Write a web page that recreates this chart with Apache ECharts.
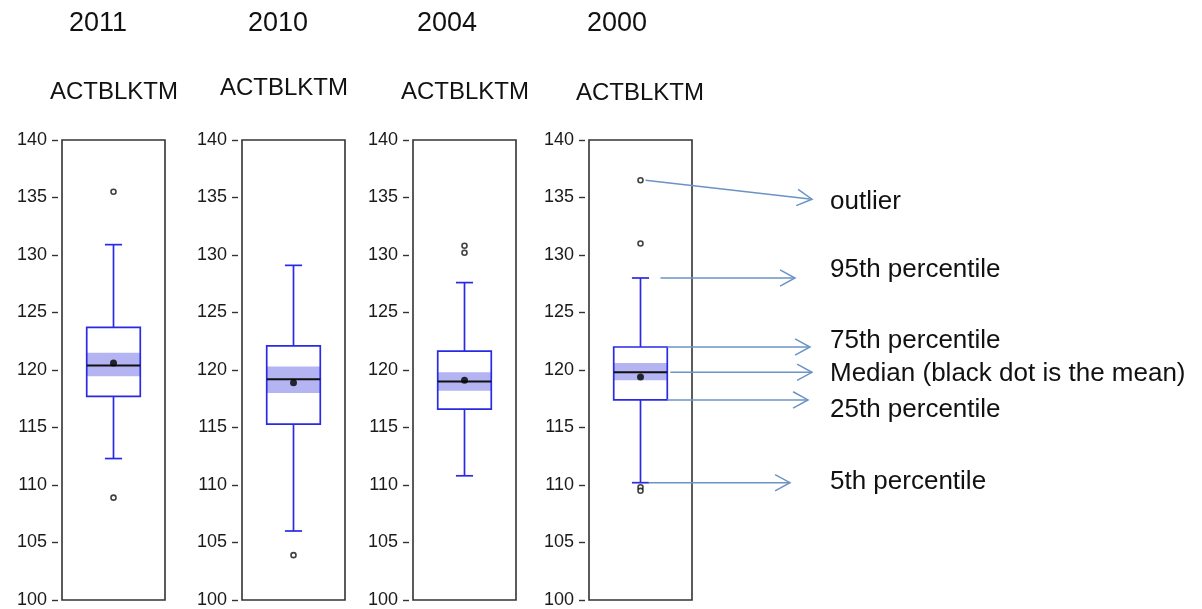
<!DOCTYPE html>
<html>
<head>
<meta charset="utf-8">
<script src="https://cdn.jsdelivr.net/npm/echarts@6/dist/echarts.min.js"></script>
<style>
  html, body { margin: 0; padding: 0; background: #fff; }
  #chart { width: 1202px; height: 609px; }
</style>
</head>
<body>
<div id="chart"></div>
<script>
"use strict"

// one panel per year
const years = ["2011", "2010", "2004", "2000"];
const varName = "ACTBLKTM";
const lowWhisker = [112.3, 106.0, 110.8, 110.2];
const q1 = [117.7, 115.3, 116.6, 117.4];
const median = [120.4, 119.2, 119.0, 119.8];
const q3 = [123.7, 122.1, 121.65, 122.0];
const highWhisker = [130.9, 129.1, 127.6, 128.0];
const bandLow = [119.45, 118.0, 118.2, 119.1];
const bandHigh = [121.5, 120.3, 119.8, 120.6];
const means = [120.6, 118.9, 119.1, 119.4];
const outliers = [[135.5, 108.9], [103.9], [130.2, 130.8], [136.5, 131.0, 109.8, 109.5]];
const yTicks = { min: 100, max: 140, step: 5 };

// annotation of the last panel: label + which statistic the arrow points from
const annoLabels = ["outlier", "95th percentile", "75th percentile", "Median (black dot is the mean)", "25th percentile", "5th percentile"];
const annoFrom = [outliers[3][0], highWhisker[3], q3[3], median[3], q1[3], lowWhisker[3]];

const gridLeft = [62, 242, 413, 589];
const gridW = 103, gridTop = 140, gridH = 460;
const blue = "#2a2ae6";
const arrowCol = "#6b93c6";
const font = "'Liberation Sans', Arial, sans-serif";

const myChart = echarts.init(document.getElementById("chart"), null, { renderer: "canvas" });

function renderBox(params, api)
{
    const x = api.value(0);
    const pt = v => api.coord([x, v]);
    const bw = api.size([1, 0])[0] * 0.52;
    const cap = bw * 0.16;
    const cx = pt(api.value(3))[0];
    const yLo = pt(api.value(1))[1], yQ1 = pt(api.value(2))[1], yMed = pt(api.value(3))[1];
    const yQ3 = pt(api.value(4))[1], yHi = pt(api.value(5))[1];
    const yB0 = pt(api.value(6))[1], yB1 = pt(api.value(7))[1];
    const ln = { stroke: blue, lineWidth: 1.7 };
    return {
        type: "group",
        children: [
            { type: "rect", shape: { x: cx - bw / 2, y: yB1, width: bw, height: yB0 - yB1 }, style: { fill: "#b4b4f2" } },
            { type: "rect", shape: { x: cx - bw / 2, y: yQ3, width: bw, height: yQ1 - yQ3 }, style: { fill: "none", stroke: blue, lineWidth: 1.7 } },
            { type: "line", shape: { x1: cx - bw / 2, y1: yMed, x2: cx + bw / 2, y2: yMed }, style: { stroke: "#111", lineWidth: 2 } },
            { type: "line", shape: { x1: cx, y1: yQ3, x2: cx, y2: yHi }, style: ln },
            { type: "line", shape: { x1: cx, y1: yQ1, x2: cx, y2: yLo }, style: ln },
            { type: "line", shape: { x1: cx - cap, y1: yHi, x2: cx + cap, y2: yHi }, style: ln },
            { type: "line", shape: { x1: cx - cap, y1: yLo, x2: cx + cap, y2: yLo }, style: ln }
        ]
    };
}

const grids = [], xAxes = [], yAxes = [], series = [];
years.forEach((yr, i) =>
{
    grids.push({ left: gridLeft[i], top: gridTop, width: gridW, height: gridH, show: true, borderColor: "#333", borderWidth: 1.6, backgroundColor: "#fff" });
    xAxes.push({ gridIndex: i, type: "category", data: [yr], axisLine: { show: false }, axisTick: { show: false }, axisLabel: { show: false } });
    yAxes.push({
        gridIndex: i, type: "value", min: yTicks.min, max: yTicks.max, interval: yTicks.step,
        offset: 4,
        axisLine: { show: false },
        axisTick: { show: true, length: 6, lineStyle: { color: "#333", width: 1.4 } },
        axisLabel: { margin: 11, fontSize: 18, color: "#1a1a1a", fontFamily: font },
        splitLine: { show: false }
    });
    series.push({
        type: "custom", xAxisIndex: i, yAxisIndex: i,
        renderItem: renderBox,
        encode: { x: 0, y: [1, 2, 3, 4, 5] },
        data: [[0, lowWhisker[i], q1[i], median[i], q3[i], highWhisker[i], bandLow[i], bandHigh[i]]],
        z: 2
    });
    series.push({
        type: "scatter", xAxisIndex: i, yAxisIndex: i,
        symbolSize: 5,
        itemStyle: { color: "#fff", borderColor: "#111", borderWidth: 1.6 },
        data: outliers[i].map(v => [0, v]),
        z: 3
    });
    series.push({
        type: "scatter", xAxisIndex: i, yAxisIndex: i,
        symbolSize: 7,
        itemStyle: { color: "#000" },
        data: [[0, means[i]]],
        z: 4
    });
});

myChart.setOption({
    animation: false,
    grid: grids,
    xAxis: xAxes,
    yAxis: yAxes,
    series: series
});

// titles and the annotation arrows of the last panel
const yearX = [98, 278, 447, 617];
const nameX = [114, 284, 465, 640];
const nameY = [92, 88, 92, 93];
const graphics = [];
years.forEach((yr, i) =>
{
    graphics.push({ type: "text", x: yearX[i], y: 24, style: { text: yr, font: "27px " + font, fill: "#111", textAlign: "center", textVerticalAlign: "middle" } });
    graphics.push({ type: "text", x: nameX[i], y: nameY[i], style: { text: varName, font: "24px " + font, fill: "#111", textAlign: "center", textVerticalAlign: "middle" } });
});

const startDx = [5, 20, 0, 3, 0, 8];
const endX = [812, 795, 810, 812, 808, 790];
const endDy = [19, 0, 0, 0, 0, 0];
const textY = [202, 270, 341, 374, 410, 482];
annoLabels.forEach((lab, k) =>
{
    const p = myChart.convertToPixel({ gridIndex: 3 }, [0, annoFrom[k]]);
    const onBox = k >= 2 && k <= 4;
    const sx = (onBox ? p[0] + gridW * 0.26 : p[0]) + startDx[k];
    const sy = p[1], ex = endX[k], ey = p[1] + endDy[k];
    const ang = Math.atan2(ey - sy, ex - sx);
    const hl = 17, hw = 0.5;
    graphics.push({ type: "line", shape: { x1: sx, y1: sy, x2: ex, y2: ey }, style: { stroke: arrowCol, lineWidth: 1.5 }, z: 10 });
    graphics.push({
        type: "polyline",
        shape: { points: [
            [ex - hl * Math.cos(ang - hw), ey - hl * Math.sin(ang - hw)],
            [ex, ey],
            [ex - hl * Math.cos(ang + hw), ey - hl * Math.sin(ang + hw)]
        ] },
        style: { stroke: arrowCol, lineWidth: 1.5, fill: "none" }, z: 10
    });
    graphics.push({ type: "text", x: 830, y: textY[k], style: { text: lab, font: "26px " + font, fill: "#111", textVerticalAlign: "middle" }, z: 10 });
});

myChart.setOption({ graphic: graphics });
</script>
</body>
</html>
